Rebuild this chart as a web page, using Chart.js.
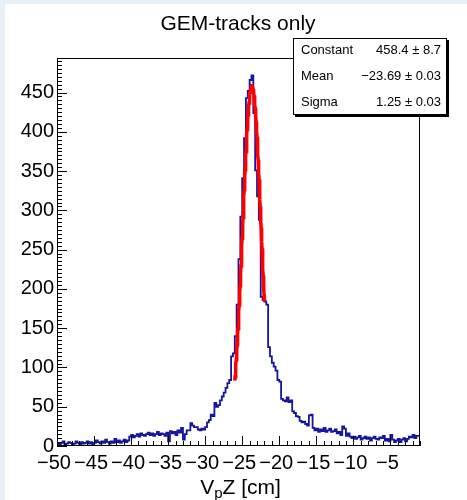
<!DOCTYPE html>
<html><head><meta charset="utf-8">
<script src="https://cdn.jsdelivr.net/npm/chart.js@4.4.1/dist/chart.umd.min.js"></script>
<style>html,body{margin:0;padding:0;background:#fff;overflow:hidden}#c{position:absolute;left:0;top:0}</style>
</head><body><canvas id="c" width="467" height="500"></canvas>
<script>
// ---- data ----
const histLow = -50;
const binWidth = 0.25;
const counts = [
  5,3,2,4, 6,2,3,5, 4,2,3,6, 4,2,5,3, 4,6,3,5,
  2,4,7,5, 3,6,4,8, 5,3,6,4, 9,5,7,4, 6,8,5,7,
  12,14,11,13, 15,12,16,14, 13,15,17,14, 16,13,15,18, 14,16,15,13,
  17,6,19,16, 18,14,20,17, 23,8,15,20, 20,29,26,24, 24,21,20,22,
  21,24,30,33, 40,38,55,50, 52,58,63,68, 74,80,84,114, 118,140,180,238,
  292,341,392,443, 452,466,472,424, 351,318,288,190, 186,184,180,126, 114,106,101,96,
  84,82,60,58, 57,62,56,58, 44,42,38,37, 32,30,31,28, 26,39,40,23,
  20,22,18,21, 19,23,18,20, 22,18,19,21, 16,18,14,25, 22,13,16,12,
  10,12,9,11, 13,8,10,12, 9,11,7,10, 12,9,8,11, 10,13,7,9,
  6,14,8,5, 7,9,5,8, 10,6,9,12, 11,14,10,13
];
const xRange = [-50, -1];
const yRange = [0, 494];
const xTicks = [-50,-45,-40,-35,-30,-25,-20,-15,-10,-5];
const yTicks = [0,50,100,150,200,250,300,350,400,450];
const fitParams = [458.4, -23.69, 1.25];   // Constant, Mean, Sigma
const fitErrors = [8.7, 0.03, 0.03];
const fitRange = [-26, -22];
const statNames = ['Constant', 'Mean', 'Sigma'];
const statValues = ['458.4 \u00b1 8.7', '\u221223.69 \u00b1 0.03', '1.25 \u00b1 0.03'];
const chartTitle = 'GEM-tracks only';

// ---- build datasets ----
const histPoints = counts.map((c, i) => ({x: histLow + i * binWidth, y: c}));
histPoints.push({x: histLow + counts.length * binWidth, y: counts[counts.length - 1]});
const fitPoints = [];
for (let x = fitRange[0]; x <= fitRange[1] + 1e-9; x += 0.04) {
  const z = (x - fitParams[1]) / fitParams[2];
  fitPoints.push({x: x, y: fitParams[0] * Math.exp(-0.5 * z * z)});
}

const FONT = '"Liberation Sans", Arial, sans-serif';
const minus = v => (v < 0 ? '\u2212' + Math.abs(v) : String(v));

const rootPlugin = {
  id: 'rootStyle',
  beforeDraw(chart) {
    const ctx = chart.ctx;
    ctx.save();
    ctx.fillStyle = '#ffffff';
    ctx.fillRect(0, 0, chart.width, chart.height);
    ctx.fillStyle = '#e8f0f9';
    ctx.fillRect(0, 0, chart.width, 4);
    ctx.fillRect(0, 0, 5, chart.height);
    ctx.restore();
  },
  afterDraw(chart) {
    const ctx = chart.ctx;
    const a = chart.chartArea;
    const xs = chart.scales.x, ys = chart.scales.y;
    ctx.save();
    // frame
    ctx.strokeStyle = '#000';
    ctx.lineWidth = 1;
    ctx.strokeRect(Math.round(a.left) + 0.5, Math.round(a.top) + 0.5,
                   Math.round(a.right - a.left) - 1, Math.round(a.bottom - a.top) - 1);
    // ticks
    ctx.beginPath();
    for (let v = xRange[0]; v <= xRange[1]; v += 1) {
      const px = Math.round(xs.getPixelForValue(v)) + 0.5;
      const len = xTicks.includes(v) ? 10 : 5;
      ctx.moveTo(px, a.bottom);
      ctx.lineTo(px, a.bottom - len);
    }
    for (let v = yRange[0]; v <= yRange[1]; v += 5) {
      const py = Math.round(ys.getPixelForValue(v)) + 0.5;
      const len = yTicks.includes(v) ? 10 : 5;
      ctx.moveTo(a.left, py);
      ctx.lineTo(a.left + len, py);
    }
    ctx.stroke();
    // title
    ctx.fillStyle = '#000';
    ctx.font = '21px ' + FONT;
    ctx.textAlign = 'center';
    ctx.textBaseline = 'alphabetic';
    ctx.fillText(chartTitle, 238, 30);
    // stats box
    const bx = 293, by = 38, bw = 154, bh = 77;
    ctx.fillStyle = '#000';
    ctx.fillRect(bx + 2, by + bh, bw, 2);
    ctx.fillRect(bx + bw, by + 2, 2, bh);
    ctx.fillStyle = '#fff';
    ctx.fillRect(bx, by, bw, bh);
    ctx.strokeStyle = '#000';
    ctx.strokeRect(bx + 0.5, by + 0.5, bw - 1, bh - 1);
    ctx.fillStyle = '#000';
    ctx.font = '13px ' + FONT;
    ctx.textBaseline = 'middle';
    const rowH = bh / statNames.length;
    statNames.forEach((n, i) => {
      const cy = by + rowH * (i + 0.5);
      ctx.textAlign = 'left';
      ctx.fillText(n, bx + 8, cy);
      ctx.textAlign = 'right';
      ctx.fillText(statValues[i], bx + bw - 6, cy);
    });
    // x axis title  V_pZ [cm]
    ctx.textBaseline = 'alphabetic';
    ctx.textAlign = 'left';
    const big = '21px ' + FONT, small = '15px ' + FONT;
    ctx.font = big; const wV = ctx.measureText('V').width;
    ctx.font = small; const wp = ctx.measureText('p').width;
    ctx.font = big; const wR = ctx.measureText('Z [cm]').width;
    const total = wV + wp + wR;
    let x0 = (a.left + a.right) / 2 - total / 2 + 2;
    const base = 494;
    ctx.font = big; ctx.fillText('V', x0, base);
    ctx.font = small; ctx.fillText('p', x0 + wV, base + 4);
    ctx.font = big; ctx.fillText('Z [cm]', x0 + wV + wp, base);
    ctx.restore();
  }
};

new Chart(document.getElementById('c'), {
  type: 'scatter',
  data: {
    datasets: [
      {
        label: 'hist',
        data: histPoints,
        showLine: true,
        stepped: 'after',
        borderColor: '#14149e',
        borderWidth: 1.8,
        pointRadius: 0,
        fill: false,
        order: 2
      },
      {
        label: 'gaus fit',
        data: fitPoints,
        showLine: true,
        borderColor: '#ff0000',
        borderWidth: 3.5,
        pointRadius: 0,
        tension: 0,
        fill: false,
        order: 1
      }
    ]
  },
  options: {
    responsive: false,
    animation: false,
    devicePixelRatio: 1,
    layout: {padding: {left: 0, top: 58, right: 47, bottom: 0}},
    plugins: {legend: {display: false}, title: {display: false}, tooltip: {enabled: false}},
    scales: {
      x: {
        type: 'linear',
        min: xRange[0], max: xRange[1],
        grid: {display: false, drawTicks: false},
        border: {display: false},
        afterBuildTicks: s => { s.ticks = xTicks.map(v => ({value: v})); },
        afterFit: s => { s.height = 54; },
        ticks: {
          autoSkip: false, maxRotation: 0, padding: 5, labelOffset: -3,
          color: '#000', font: {family: FONT, size: 20},
          callback: v => minus(v)
        }
      },
      y: {
        type: 'linear',
        min: yRange[0], max: yRange[1],
        grid: {display: false, drawTicks: false},
        border: {display: false},
        afterBuildTicks: s => { s.ticks = yTicks.map(v => ({value: v})); },
        afterFit: s => { s.width = 57; },
        ticks: {
          autoSkip: false, padding: 3,
          color: '#000', font: {family: FONT, size: 20},
          callback: v => String(v)
        }
      }
    }
  },
  plugins: [rootPlugin]
});
</script>
</body></html>
